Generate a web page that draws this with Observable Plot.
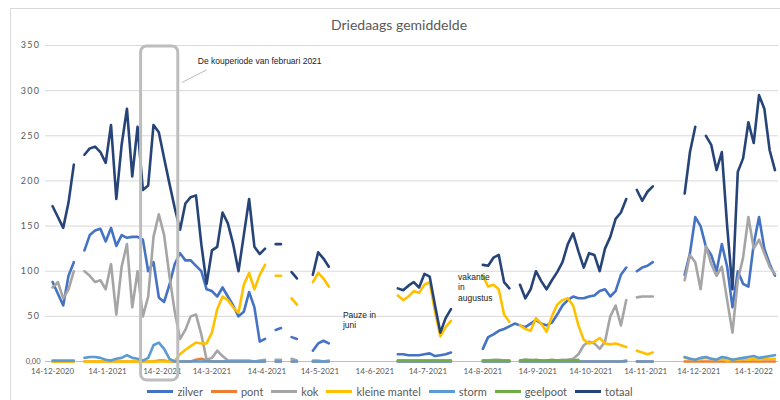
<!DOCTYPE html>
<html>
<head>
<meta charset="utf-8">
<script src="https://cdn.jsdelivr.net/npm/d3@7"></script>
<script src="https://cdn.jsdelivr.net/npm/@observablehq/plot@0.6"></script>
<style>
  body { margin: 0; background: #fff; }
  #wrap { position: relative; width: 780px; height: 400px; overflow: hidden; background: #fff; }
  #frame { position: absolute; left: 10px; top: 8px; width: 800px; height: 420px; border-left: 1px solid #D9D9D9; border-top: 1px solid #D9D9D9; pointer-events: none; }
  #title { height: 36px; box-sizing: border-box; padding-top: 17px; line-height: 16px; text-align: center; font-family: Lato, "Open Sans", sans-serif; font-size: 14px; color: #595959; padding-left: 18px; }
  #chart svg { display: block; }
  #legend { width: 780px; box-sizing: border-box; height: 17px; display: flex; justify-content: center; align-items: center; gap: 8px; padding-left: 0px; font-family: Lato, "Open Sans", sans-serif; font-size: 11px; color: #595959; }
  #legend .item { display: flex; align-items: center; }
  #legend .sw { width: 26px; height: 3px; margin-right: 4px; }
</style>
</head>
<body>
<div id="wrap">
  <div id="title">Driedaags gemiddelde</div>
  <div id="chart"></div>
  <div id="legend"></div>
  <div id="frame"></div>
</div>
<script>
const N = null;

// three-day steps starting 11-12-2020
const startDate = "2020-12-11";
const stepDays = 3;

const zilver = [
  N,88,75,62,95,110,N,123,140,145,
  147,133,148,128,140,137,138,138,135,100,
  110,71,66,85,108,120,112,112,106,100,
  80,78,72,82,72,62,50,55,77,60,
  22,25,N,35,37,N,27,25,N,N,
  12,20,23,20,N,N,N,N,N,N,
  N,N,N,N,N,N,8,8,7,7,
  7,8,9,6,7,8,10,N,N,N,
  N,N,14,27,30,34,36,39,42,40,
  38,42,46,42,40,43,52,62,68,72,
  70,70,72,73,78,80,72,78,96,104,
  N,100,104,106,110,N,N,N,N,N,
  96,120,160,150,127,118,100,130,105,60,
  100,86,83,130,160,125,108,95
];
const pont = [
  N,0,0,0,0,0,N,0,0,0,
  0,0,0,0,0,0,0,0,0,0,
  0,1,1,0,0,0,0,0,2,3,
  1,0,0,0,0,0,0,0,0,0,
  0,0,N,0,0,N,0,0,N,N,
  0,0,0,0,N,N,N,N,N,N,
  N,N,N,N,N,N,0,0,0,0,
  0,0,0,0,0,0,0,N,N,N,
  N,N,0,0,0,0,0,0,N,0,
  0,0,0,0,0,0,0,0,0,0,
  0,0,0,0,0,0,0,0,0,1,
  N,0,0,0,0,N,N,N,N,N,
  0,0,0,0,0,0,0,0,0,0,
  0,0,0,0,0,0,0,0
];
const kok = [
  N,82,88,70,80,100,N,100,95,88,
  90,80,108,52,105,130,60,100,50,72,
  138,163,140,95,55,25,35,50,52,30,
  2,4,12,6,1,1,1,1,1,0,
  1,2,N,2,2,N,3,1,N,N,
  1,1,0,1,N,N,N,N,N,N,
  N,N,N,N,N,N,1,1,1,1,
  1,1,1,1,1,1,1,N,N,N,
  N,N,1,1,2,2,1,1,N,1,
  2,2,1,1,1,1,1,2,2,3,
  8,18,22,20,14,22,50,62,40,68,
  N,71,72,72,72,N,N,N,N,N,
  90,118,110,80,128,108,95,105,68,32,
  90,115,160,125,135,120,105,97
];
const kleineMantel = [
  N,0,0,0,0,0,N,0,0,0,
  0,0,0,0,0,0,0,0,0,0,
  0,0,0,0,1,8,13,17,21,20,
  20,32,58,72,68,60,54,85,98,80,
  96,107,N,95,95,N,70,63,N,N,
  88,98,92,83,N,N,N,N,N,N,
  N,N,N,N,N,N,73,68,72,78,
  76,85,88,55,28,38,45,N,N,N,
  N,N,95,83,85,80,52,44,N,40,
  36,34,48,42,33,50,63,68,70,62,
  40,24,20,22,26,20,19,20,18,16,
  N,12,10,8,10,N,N,N,N,N,
  4,3,2,3,4,3,2,3,1,2,
  2,3,2,3,2,3,3,3
];
const storm = [
  N,1,1,1,1,1,N,4,5,5,
  4,2,1,3,4,7,4,3,1,4,
  18,21,14,3,0,0,0,0,0,0,
  0,0,0,0,0,0,0,0,0,0,
  0,0,N,0,0,N,0,0,N,N,
  0,0,0,0,N,N,N,N,N,N,
  N,N,N,N,N,N,0,0,0,0,
  0,0,0,0,0,0,0,N,N,N,
  N,N,0,0,0,0,0,0,N,0,
  0,0,0,0,0,0,0,0,0,0,
  0,0,0,0,0,0,0,0,0,0,
  N,0,0,0,0,N,N,N,N,N,
  5,3,2,4,5,3,2,5,4,2,
  3,4,5,6,4,5,6,7
];
const geelpoot = [
  N,N,N,N,N,N,N,N,N,N,
  N,N,N,N,N,N,N,N,N,N,
  N,N,N,N,N,N,N,N,N,N,
  N,N,N,N,N,N,N,N,N,N,
  N,N,N,N,N,N,N,N,N,N,
  N,N,N,N,N,N,N,N,N,N,
  N,N,N,N,N,N,1,1,1,1,
  1,1,1,1,1,1,1,N,N,N,
  N,N,1,1,1,1,1,1,N,1,
  2,1,2,1,1,2,1,1,1,1,
  2,N,N,N,N,N,N,N,N,N,
  N,N,N,N,N,N,N,N,N,N,
  N,N,N,N,N,N,N,N,N,N,
  N,N,N,N,N,N,N,N
];
const totaal = [
  N,172,160,148,176,218,N,229,236,238,
  232,220,262,180,240,280,205,260,190,195,
  262,254,225,197,170,146,175,182,184,130,
  86,123,127,165,153,130,100,140,180,127,
  119,125,N,130,130,N,99,92,N,N,
  96,121,114,105,N,N,N,N,N,N,
  N,N,N,N,N,N,81,79,84,88,
  82,97,94,62,32,48,58,N,N,N,
  N,N,107,106,115,118,88,81,N,85,
  70,80,100,89,80,90,99,110,130,142,
  122,104,120,118,100,125,138,158,165,180,
  N,190,178,188,194,N,N,N,N,N,
  186,232,260,N,250,240,212,232,150,80,
  210,225,265,242,295,280,234,212
];

const seriesNames = ["zilver","pont","kok","kleine mantel","storm","geelpoot","totaal"];
const seriesColors = ["#4472C4","#ED7D31","#A5A5A5","#FFC000","#5B9BD5","#70AD47","#264478"];
const seriesValues = [zilver, pont, kok, kleineMantel, storm, geelpoot, totaal];

const tickLabels = ["14-12-2020","14-1-2021","14-2-2021","14-3-2021","14-4-2021","14-5-2021","14-6-2021",
  "14-7-2021","14-8-2021","14-9-2021","14-10-2021","14-11-2021","14-12-2021","14-1-2022"];
const yTicks = [0,50,100,150,200,250,300,350];
const yLabels = ["0,00","50","100","150","200","250","300","350"];

// annotations (data coordinates)
const koupBox = [{start: "2021-02-02", end: "2021-02-23", low: -21, high: 349}];
const koupLeader = [{from: "2021-02-25", fromValue: 309, to: "2021-03-11", toValue: 323}];
const notes = [
  {date: "2021-03-06", value: 333, label: "De kouperiode van februari 2021", anchor: "middle"},
  {date: "2021-05-27", value: 57, label: "Pauze in\njuni", anchor: "top"},
  {date: "2021-07-31", value: 99, label: "vakantie\nin\naugustus", anchor: "top"}
];

const parseTick = d3.utcParse("%d-%m-%Y");
const tickDates = tickLabels.map(parseTick);
const labelOf = new Map(tickDates.map((d, i) => [+d, tickLabels[i]]));
const start = new Date(startDate);
const dates = totaal.map((_, i) => d3.utcDay.offset(start, i * stepDays));
const rows = dates.map((date, i) => {
  const r = {date};
  seriesNames.forEach((s, k) => r[s] = seriesValues[k][i]);
  return r;
});

const lineMarks = seriesNames.map((s, k) =>
  Plot.line(rows, {x: "date", y: s, stroke: seriesColors[k], strokeWidth: 2.6, strokeLinejoin: "round", strokeLinecap: "round"})
);

const chart = Plot.plot({
  width: 780,
  height: 347,
  marginTop: 9,
  marginBottom: 22,
  marginLeft: 45,
  marginRight: 2,
  style: {fontFamily: "Lato, 'Open Sans', sans-serif", background: "transparent", overflow: "visible"},
  x: {type: "utc", domain: [new Date("2020-12-10"), new Date("2022-01-28")]},
  y: {domain: [0, 350]},
  marks: [
    Plot.gridY(yTicks.slice(1), {stroke: "#D9D9D9", strokeOpacity: 1, strokeWidth: 1}),
    Plot.ruleY([0], {stroke: "#BFBFBF", strokeWidth: 1}),
    Plot.axisY(yTicks, {tickSize: 0, tickPadding: 5, fontSize: 9, fill: "#595959",
      tickFormat: (d) => yLabels[yTicks.indexOf(d)]}),
    Plot.axisX(tickDates, {tickSize: 0, tickPadding: 7, fontSize: 8, fill: "#595959",
      tickFormat: (d) => labelOf.get(+d)}),
    ...lineMarks,
    Plot.rect(koupBox, {x1: (d) => new Date(d.start), x2: (d) => new Date(d.end), y1: "low", y2: "high",
      fill: "none", stroke: "#BDBDBD", strokeWidth: 3, rx: 6}),
    Plot.link(koupLeader, {x1: (d) => new Date(d.from), y1: "fromValue", x2: (d) => new Date(d.to), y2: "toValue",
      stroke: "#BDBDBD", strokeWidth: 1}),
    Plot.text(notes.filter(d => d.anchor === "middle"), {x: (d) => new Date(d.date), y: "value", text: "label",
      textAnchor: "start", fontSize: 8.5, fill: "#222", fontFamily: "'Liberation Sans', Arial, sans-serif"}),
    Plot.text(notes.filter(d => d.anchor === "top"), {x: (d) => new Date(d.date), y: "value", text: "label",
      textAnchor: "start", lineAnchor: "top", lineHeight: 1.25, fontSize: 8.5, fill: "#222",
      fontFamily: "'Liberation Sans', Arial, sans-serif"})
  ]
});
document.getElementById("chart").appendChild(chart);

// wide-set y tick labels like the original
d3.select(chart).selectAll('[aria-label="y-axis tick label"] text')
  .style("letter-spacing", "1.4px")
  .each(function() {
    if (this.textContent === "0,00") d3.select(this).style("letter-spacing", "0px").attr("font-size", 7.5);
  });

const legend = d3.select("#legend");
seriesNames.forEach((s, k) => {
  const item = legend.append("div").attr("class", "item");
  item.append("div").attr("class", "sw").style("background", seriesColors[k]);
  item.append("span").text(s);
});
</script>
</body>
</html>
